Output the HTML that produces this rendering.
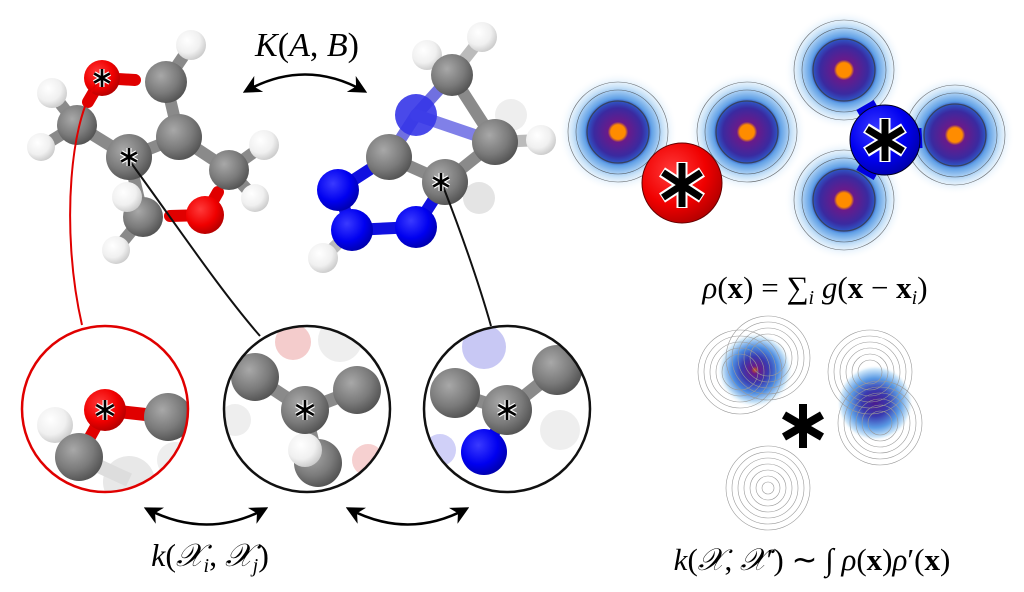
<!DOCTYPE html>
<html><head><meta charset="utf-8"><style>
html,body{margin:0;padding:0;background:#fff;}
svg{display:block;}
text{font-family:"Liberation Serif",serif;}
</style></head><body>
<svg width="1024" height="592" viewBox="0 0 1024 592" xmlns="http://www.w3.org/2000/svg">
<defs>
<radialGradient id="gC" cx="0.38" cy="0.35" r="0.7"><stop offset="0" stop-color="#a8a8a8"/><stop offset="0.6" stop-color="#7a7a7a"/><stop offset="1" stop-color="#505050"/></radialGradient>
<radialGradient id="gH" cx="0.38" cy="0.35" r="0.7"><stop offset="0" stop-color="#ffffff"/><stop offset="0.6" stop-color="#f0f0f0"/><stop offset="1" stop-color="#c8c8c8"/></radialGradient>
<radialGradient id="gO" cx="0.38" cy="0.35" r="0.7"><stop offset="0" stop-color="#ff3a3a"/><stop offset="0.6" stop-color="#f00000"/><stop offset="1" stop-color="#b00000"/></radialGradient>
<radialGradient id="gN" cx="0.38" cy="0.35" r="0.7"><stop offset="0" stop-color="#3a3aff"/><stop offset="0.6" stop-color="#0000f0"/><stop offset="1" stop-color="#0000a8"/></radialGradient>
<radialGradient id="gD"><stop offset="0" stop-color="#ff8c00"/><stop offset="0.12" stop-color="#ff8c00"/><stop offset="0.17" stop-color="#6a1a8a"/><stop offset="0.4" stop-color="#3a2aa0"/><stop offset="0.5" stop-color="#3050c0"/><stop offset="0.56" stop-color="#60a0e6"/><stop offset="0.75" stop-color="#c8e2f8"/><stop offset="1" stop-color="#ffffff" stop-opacity="0"/></radialGradient>
<radialGradient id="gD2"><stop offset="0" stop-color="#d06010"/><stop offset="0.1" stop-color="#6a1a8a"/><stop offset="0.35" stop-color="#3a3ab0"/><stop offset="0.6" stop-color="#4a8ae0"/><stop offset="0.85" stop-color="#c8e4f8"/><stop offset="1" stop-color="#ffffff" stop-opacity="0"/></radialGradient>
<radialGradient id="gD3"><stop offset="0" stop-color="#4a1a90"/><stop offset="0.35" stop-color="#3a3ab0"/><stop offset="0.65" stop-color="#5a9ae4"/><stop offset="0.9" stop-color="#d0e8fa"/><stop offset="1" stop-color="#ffffff" stop-opacity="0"/></radialGradient>
<clipPath id="c1"><circle cx="105" cy="409" r="83"/></clipPath>
<clipPath id="c2"><circle cx="307" cy="409" r="83"/></clipPath>
<clipPath id="c3"><circle cx="507" cy="409" r="83"/></clipPath>
<marker id="ah" viewBox="0 0 10 10" refX="8" refY="5" markerWidth="7" markerHeight="7" orient="auto-start-reverse"><path d="M0,0 L10,5 L0,10 L3,5z" fill="#000"/></marker>
</defs>

<!-- bonds molecule 1 -->
<g stroke-linecap="round">
<g stroke="#8a8a8a" stroke-width="12">
<line x1="77" y1="125" x2="52" y2="93"/><line x1="77" y1="125" x2="41" y2="147"/>
<line x1="77" y1="125" x2="129" y2="157"/><line x1="129" y1="157" x2="179" y2="137"/>
<line x1="179" y1="137" x2="166" y2="82"/><line x1="166" y1="82" x2="191" y2="45"/>
<line x1="179" y1="137" x2="229" y2="170"/><line x1="229" y1="170" x2="264" y2="145"/>
<line x1="229" y1="170" x2="255" y2="198"/><line x1="143" y1="217" x2="127" y2="197"/>
<line x1="143" y1="217" x2="116" y2="250"/><line x1="129" y1="157" x2="143" y2="217"/>
</g>
<line x1="102" y1="78" x2="135" y2="80" stroke="#e00000" stroke-width="12"/>
<line x1="102" y1="78" x2="88" y2="102" stroke="#e00000" stroke-width="12"/>
<line x1="205" y1="215" x2="218" y2="192" stroke="#e00000" stroke-width="12"/>
<line x1="205" y1="215" x2="170" y2="216" stroke="#e00000" stroke-width="12"/>
</g>
<circle cx="191" cy="45" r="15" fill="url(#gH)"/>
<circle cx="52" cy="93" r="15" fill="url(#gH)"/>
<circle cx="41" cy="147" r="14" fill="url(#gH)"/>
<circle cx="264" cy="145" r="15" fill="url(#gH)"/>
<circle cx="255" cy="198" r="14" fill="url(#gH)"/>
<circle cx="166" cy="82" r="21" fill="url(#gC)"/>
<circle cx="77" cy="125" r="20" fill="url(#gC)"/>
<circle cx="229" cy="170" r="20" fill="url(#gC)"/>
<circle cx="179" cy="137" r="23" fill="url(#gC)"/>
<circle cx="143" cy="217" r="20" fill="url(#gC)"/>
<circle cx="116" cy="250" r="14" fill="url(#gH)"/>
<circle cx="127" cy="197" r="15" fill="url(#gH)"/>
<circle cx="129" cy="157" r="23" fill="url(#gC)"/>
<circle cx="205" cy="215" r="19" fill="url(#gO)"/>
<circle cx="102" cy="78" r="18" fill="url(#gO)"/>

<!-- molecule 2 -->
<g stroke-linecap="round" stroke-width="12">
<line x1="452" y1="75" x2="482" y2="37" stroke="#bbb"/><line x1="452" y1="75" x2="427" y2="55" stroke="#bbb"/>
<line x1="452" y1="75" x2="495" y2="142" stroke="#8a8a8a"/>
<line x1="452" y1="75" x2="416" y2="115" stroke="#7070e0"/>
<line x1="416" y1="115" x2="389" y2="157" stroke="#7070e0"/>
<line x1="416" y1="115" x2="495" y2="142" stroke="#8080e8"/>
<line x1="495" y1="142" x2="541" y2="140" stroke="#bbb"/><line x1="495" y1="142" x2="511" y2="115" stroke="#ccc"/>
<line x1="495" y1="142" x2="445" y2="182" stroke="#8a8a8a"/>
<line x1="445" y1="182" x2="479" y2="198" stroke="#ccc"/>
<line x1="389" y1="157" x2="445" y2="182" stroke="#8a8a8a"/>
<line x1="389" y1="157" x2="338" y2="190" stroke="#1010e0"/>
<line x1="338" y1="190" x2="352" y2="230" stroke="#1010e0"/>
<line x1="352" y1="230" x2="416" y2="227" stroke="#1010e0"/>
<line x1="416" y1="227" x2="445" y2="182" stroke="#1010e0"/>
<line x1="352" y1="230" x2="323" y2="258" stroke="#bbb"/>
</g>
<circle cx="511" cy="115" r="16" fill="#eee"/>
<circle cx="479" cy="198" r="16" fill="#e4e4e4"/>
<circle cx="482" cy="37" r="15" fill="url(#gH)"/>
<circle cx="427" cy="55" r="15" fill="url(#gH)"/>
<circle cx="452" cy="75" r="21" fill="url(#gC)"/>
<circle cx="416" cy="115" r="21" fill="#3535e8" opacity="0.9"/>
<circle cx="541" cy="140" r="15" fill="url(#gH)"/>
<circle cx="495" cy="142" r="23" fill="url(#gC)"/>
<circle cx="389" cy="157" r="23" fill="url(#gC)"/>
<circle cx="445" cy="182" r="23" fill="url(#gC)"/>
<circle cx="323" cy="258" r="15" fill="url(#gH)"/>
<circle cx="338" cy="190" r="21" fill="url(#gN)"/>
<circle cx="352" cy="230" r="21" fill="url(#gN)"/>
<circle cx="416" cy="227" r="21" fill="url(#gN)"/>

<!-- connector lines -->
<path d="M100,80 C70,110 60,230 82,325" stroke="#e00000" stroke-width="2" fill="none"/>
<path d="M129,160 C180,230 220,290 260,336" stroke="#111" stroke-width="2" fill="none"/>
<path d="M443,186 C460,230 478,280 491,326" stroke="#111" stroke-width="2" fill="none"/>

<!-- top arrow & label -->
<path d="M246,91 Q305,58 364,91" stroke="#000" stroke-width="2.6" fill="none" marker-start="url(#ah)" marker-end="url(#ah)"/>
<text x="307" y="56" font-size="34" text-anchor="middle"><tspan font-style="italic">K</tspan>(<tspan font-style="italic">A</tspan>, <tspan font-style="italic">B</tspan>)</text>

<!-- inset 1 -->
<g clip-path="url(#c1)">
<circle cx="129" cy="482" r="26" fill="#e8e8e8"/><circle cx="175" cy="460" r="18" fill="#eee"/>
<line x1="79" y1="457" x2="129" y2="480" stroke="#ddd" stroke-width="14"/>
<line x1="105" y1="410" x2="168" y2="417" stroke="#e00000" stroke-width="13"/>
<line x1="105" y1="410" x2="79" y2="457" stroke="#e00000" stroke-width="12"/>
<line x1="79" y1="457" x2="55" y2="425" stroke="#bbb" stroke-width="12"/>
<circle cx="55" cy="425" r="18" fill="url(#gH)"/>
<circle cx="79" cy="457" r="24" fill="url(#gC)"/>
<circle cx="168" cy="417" r="24" fill="url(#gC)"/>
<circle cx="105" cy="410" r="21" fill="url(#gO)"/>
</g>
<circle cx="105" cy="409" r="83" fill="none" stroke="#e00000" stroke-width="2.5"/>
<!-- inset 2 -->
<g clip-path="url(#c2)">
<circle cx="293" cy="342" r="18" fill="#f4cccc"/><circle cx="368" cy="460" r="16" fill="#f6d0d0"/>
<circle cx="340" cy="340" r="22" fill="#eee"/><circle cx="235" cy="420" r="16" fill="#eee"/>
<g stroke="#8a8a8a" stroke-width="13"><line x1="305" y1="410" x2="255" y2="377"/><line x1="305" y1="410" x2="357" y2="390"/><line x1="305" y1="410" x2="318" y2="463"/></g>
<circle cx="255" cy="377" r="24" fill="url(#gC)"/>
<circle cx="357" cy="390" r="24" fill="url(#gC)"/>
<circle cx="318" cy="463" r="24" fill="url(#gC)"/>
<circle cx="305" cy="450" r="17" fill="url(#gH)"/>
<circle cx="305" cy="410" r="24" fill="url(#gC)"/>
</g>
<circle cx="307" cy="409" r="83" fill="none" stroke="#111" stroke-width="2.5"/>
<!-- inset 3 -->
<g clip-path="url(#c3)">
<circle cx="484" cy="347" r="22" fill="#c8c8f4"/><circle cx="440" cy="450" r="16" fill="#d0d0f8"/>
<circle cx="560" cy="430" r="20" fill="#eee"/>
<g stroke="#8a8a8a" stroke-width="13"><line x1="507" y1="410" x2="455" y2="393"/><line x1="507" y1="410" x2="557" y2="370"/></g>
<line x1="507" y1="410" x2="484" y2="452" stroke="#0000e0" stroke-width="11"/>
<circle cx="455" cy="393" r="25" fill="url(#gC)"/>
<circle cx="557" cy="370" r="25" fill="url(#gC)"/>
<circle cx="507" cy="410" r="25" fill="url(#gC)"/>
<circle cx="484" cy="452" r="23" fill="url(#gN)"/>
</g>
<circle cx="507" cy="409" r="83" fill="none" stroke="#111" stroke-width="2.5"/>

<!-- small asterisks (white outline + black) -->
<g stroke-linecap="butt">
<g stroke="#fff" stroke-width="5">
<path d="M102,69V87M94.2,73.5L109.8,82.5M94.2,82.5L109.8,73.5"/>
<path d="M129,148V166M121.2,152.5L136.8,161.5M121.2,161.5L136.8,152.5"/>
<path d="M441,173V191M433.2,177.5L448.8,186.5M433.2,186.5L448.8,177.5"/>
<path d="M105,400V420M96.3,405L113.7,415M96.3,415L113.7,405"/>
<path d="M305,400V420M296.3,405L313.7,415M296.3,415L313.7,405"/>
<path d="M507,400V420M498.3,405L515.7,415M498.3,415L515.7,405"/>
</g>
<g stroke="#000" stroke-width="2.6">
<path d="M102,69V87M94.2,73.5L109.8,82.5M94.2,82.5L109.8,73.5"/>
<path d="M129,148V166M121.2,152.5L136.8,161.5M121.2,161.5L136.8,152.5"/>
<path d="M441,173V191M433.2,177.5L448.8,186.5M433.2,186.5L448.8,177.5"/>
<path d="M105,400V420M96.3,405L113.7,415M96.3,415L113.7,405"/>
<path d="M305,400V420M296.3,405L313.7,415M296.3,415L313.7,405"/>
<path d="M507,400V420M498.3,405L515.7,415M498.3,415L515.7,405"/>
</g>
</g>

<!-- bottom arrows & label -->
<path d="M147,509 Q207,540 265,509" stroke="#000" stroke-width="2.6" fill="none" marker-start="url(#ah)" marker-end="url(#ah)"/>
<path d="M349,509 Q408,540 466,509" stroke="#000" stroke-width="2.6" fill="none" marker-start="url(#ah)" marker-end="url(#ah)"/>
<text x="210" y="566" font-size="32" text-anchor="middle"><tspan font-style="italic">k</tspan>(<tspan font-style="italic">𝒳</tspan><tspan font-size="20" font-style="italic" dy="6">i</tspan><tspan dy="-6">, </tspan><tspan font-style="italic">𝒳</tspan><tspan font-size="20" font-style="italic" dy="6">j</tspan><tspan dy="-6">)</tspan></text>

<!-- right top: densities -->
<g stroke="#9bb" stroke-width="12" opacity="0.6">
<line x1="618" y1="132" x2="682" y2="183"/><line x1="747" y1="132" x2="682" y2="183"/>
<line x1="844" y1="70" x2="885" y2="140"/><line x1="955" y1="135" x2="885" y2="140"/><line x1="844" y1="200" x2="885" y2="140"/>
</g>
<g>
<circle cx="618" cy="132" r="60" fill="url(#gD)"/>
<circle cx="747" cy="132" r="60" fill="url(#gD)"/>
<circle cx="844" cy="70" r="60" fill="url(#gD)"/>
<circle cx="955" cy="135" r="60" fill="url(#gD)"/>
<circle cx="844" cy="200" r="60" fill="url(#gD)"/>
</g>
<g fill="none" stroke="#333" stroke-width="0.6" opacity="0.7">
<circle cx="618" cy="132" r="31" stroke-width="1.3"/><circle cx="618" cy="132" r="42"/><circle cx="618" cy="132" r="50"/>
<circle cx="747" cy="132" r="31" stroke-width="1.3"/><circle cx="747" cy="132" r="42"/><circle cx="747" cy="132" r="50"/>
<circle cx="844" cy="70" r="31" stroke-width="1.3"/><circle cx="844" cy="70" r="42"/><circle cx="844" cy="70" r="50"/>
<circle cx="955" cy="135" r="31" stroke-width="1.3"/><circle cx="955" cy="135" r="42"/><circle cx="955" cy="135" r="50"/>
<circle cx="844" cy="200" r="31" stroke-width="1.3"/><circle cx="844" cy="200" r="42"/><circle cx="844" cy="200" r="50"/>
</g>
<g stroke="#e00000" stroke-width="18"><line x1="655" y1="160" x2="682" y2="183"/><line x1="710" y1="160" x2="682" y2="183"/></g>
<circle cx="682" cy="183" r="40" fill="url(#gO)" stroke="#600" stroke-width="1"/>
<g stroke="#0000e0" stroke-width="20"><line x1="865" y1="105" x2="885" y2="140"/><line x1="922" y1="138" x2="885" y2="140"/><line x1="865" y1="175" x2="885" y2="140"/></g>
<circle cx="885" cy="140" r="35" fill="url(#gN)" stroke="#002" stroke-width="1"/>
<g stroke="#fff" stroke-width="11">
<path d="M682,162V208M662,172L702,198M662,198L702,172"/>
<path d="M885,118V162M866,128L904,152M866,152L904,128"/>
</g>
<g stroke="#000" stroke-width="7">
<path d="M682,163V207M663,172.5L701,197.5M663,197.5L701,172.5"/>
<path d="M885,119V161M867,129L903,151M867,151L903,129"/>
</g>
<text x="815" y="298" font-size="31" text-anchor="middle"><tspan font-style="italic">ρ</tspan>(<tspan font-weight="bold">x</tspan>) = ∑<tspan font-size="20" font-style="italic" dy="6">i</tspan><tspan dy="-6" font-style="italic"> g</tspan>(<tspan font-weight="bold">x</tspan> − <tspan font-weight="bold">x</tspan><tspan font-size="20" font-style="italic" dy="6">i</tspan><tspan dy="-6">)</tspan></text>

<!-- right bottom: contours -->
<circle cx="755" cy="370" r="38" fill="url(#gD2)"/>
<circle cx="875" cy="403" r="38" fill="url(#gD3)"/>
<g fill="none" stroke="#999" stroke-width="0.6">
<circle cx="740" cy="372" r="42"/><circle cx="740" cy="372" r="36"/><circle cx="740" cy="372" r="30"/><circle cx="740" cy="372" r="24"/><circle cx="740" cy="372" r="18"/>
<circle cx="768" cy="358" r="42"/><circle cx="768" cy="358" r="36"/><circle cx="768" cy="358" r="30"/><circle cx="768" cy="358" r="24"/><circle cx="768" cy="358" r="18"/>
<circle cx="870" cy="372" r="42"/><circle cx="870" cy="372" r="36"/><circle cx="870" cy="372" r="30"/><circle cx="870" cy="372" r="24"/><circle cx="870" cy="372" r="18"/><circle cx="870" cy="372" r="12"/>
<circle cx="880" cy="423" r="42"/><circle cx="880" cy="423" r="36"/><circle cx="880" cy="423" r="30"/><circle cx="880" cy="423" r="24"/><circle cx="880" cy="423" r="18"/><circle cx="880" cy="423" r="12"/>
<circle cx="768" cy="488" r="42"/><circle cx="768" cy="488" r="36"/><circle cx="768" cy="488" r="30"/><circle cx="768" cy="488" r="24"/><circle cx="768" cy="488" r="18"/><circle cx="768" cy="488" r="12"/><circle cx="768" cy="488" r="6"/>
</g>
<path d="M803,404V448M784,415L822,437M784,437L822,415" stroke="#000" stroke-width="8"/>
<text x="812" y="570" font-size="31" text-anchor="middle"><tspan font-style="italic">k</tspan>(<tspan font-style="italic">𝒳</tspan>, <tspan font-style="italic">𝒳</tspan>′) ∼ ∫ <tspan font-style="italic">ρ</tspan>(<tspan font-weight="bold">x</tspan>)<tspan font-style="italic">ρ</tspan>′(<tspan font-weight="bold">x</tspan>)</text>
</svg>
</body></html>
